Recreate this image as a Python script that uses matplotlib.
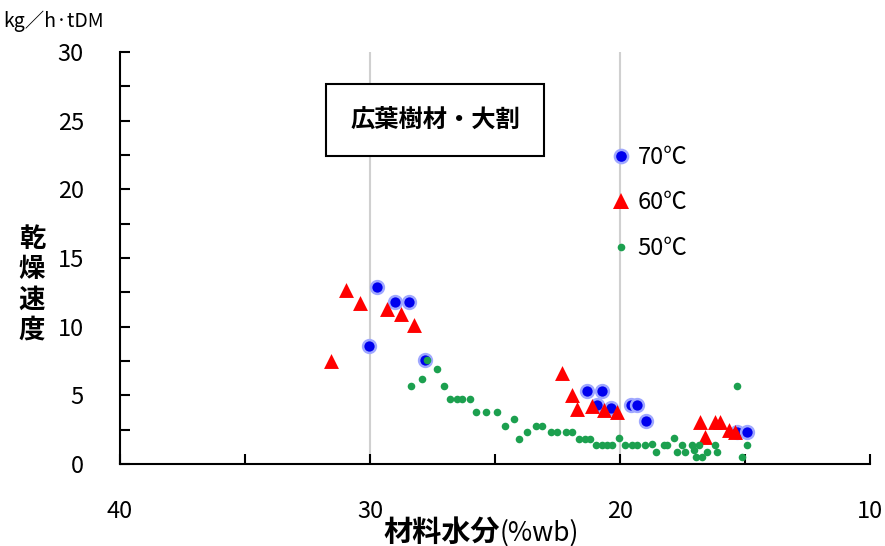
import matplotlib
matplotlib.use("Agg")
import matplotlib.pyplot as plt
from matplotlib.lines import Line2D

plt.rcParams['font.family'] = ['Noto Sans CJK JP', 'DejaVu Sans']

# 70℃ (blue circles)
t70_x = [29.7, 29.0, 28.45, 30.05, 27.8, 21.3, 20.7, 20.9, 20.35, 19.55, 19.3, 18.95, 15.3, 14.9]
t70_y = [12.9, 11.8, 11.8, 8.6, 7.6, 5.3, 5.3, 4.3, 4.1, 4.3, 4.3, 3.1, 2.35, 2.3]

# 60℃ (red triangles)
t60_x = [31.55, 30.95, 30.4, 29.3, 28.75, 28.25, 22.3, 21.9, 21.7, 21.1, 20.65, 20.1,
         16.8, 16.6, 16.2, 16.0, 15.65, 15.4]
t60_y = [7.5, 12.7, 11.75, 11.3, 10.9, 10.1, 6.6, 5.0, 4.0, 4.2, 3.95, 3.8,
         3.05, 2.0, 3.05, 3.05, 2.5, 2.35]

# 50℃ (green dots)
t50_x = [28.35, 27.9, 27.7, 27.3, 27.05, 26.8, 26.5, 26.3, 26.0, 25.75,
         25.35, 24.9, 24.6, 24.25, 24.05, 23.7, 23.35, 23.1, 22.75, 22.5,
         22.15, 21.9, 21.65, 21.4, 21.2, 20.95, 20.7, 20.5, 20.3, 20.05,
         19.8, 19.5, 19.3, 19.0, 18.7, 18.55, 18.25, 18.1, 17.85, 17.7,
         17.5, 17.4, 17.1, 17.05, 16.95, 16.85, 16.7, 16.5, 16.2, 16.1,
         15.3, 15.1, 14.9]
t50_y = [5.7, 6.2, 7.6, 6.9, 5.7, 4.75, 4.75, 4.75, 4.75, 3.8,
         3.8, 3.8, 2.8, 3.3, 1.8, 2.35, 2.8, 2.8, 2.35, 2.35,
         2.35, 2.35, 1.8, 1.8, 1.8, 1.4, 1.4, 1.4, 1.4, 1.9,
         1.4, 1.4, 1.4, 1.4, 1.45, 0.9, 1.4, 1.4, 1.9, 0.9,
         1.4, 0.9, 1.4, 1.0, 0.5, 1.4, 0.5, 0.9, 1.4, 0.9,
         5.7, 0.5, 1.4]

series_labels = ['70℃', '60℃', '50℃']
x_ticks = [40, 30, 20, 10]
y_ticks = [0, 5, 10, 15, 20, 25, 30]

blue, blue_edge = '#0000ee', '#a0a8ff'
red = '#ff0000'
green = '#1ca04f'

fig = plt.figure(figsize=(8.85, 5.46), dpi=100)
ax = fig.add_axes([120 / 885, 82 / 546, 750 / 885, 412 / 546])

for v in [30, 20]:
    ax.axvline(v, color='#d0d0d0', lw=1.5, zorder=0)

ax.scatter(t70_x, t70_y, s=85, c=blue, edgecolors=blue_edge, linewidths=1.8, zorder=3)
ax.scatter(t60_x, t60_y, s=115, c=red, marker='^', linewidths=0, zorder=4)
ax.scatter(t50_x, t50_y, s=30, c=green, linewidths=0, zorder=5)

ax.set_xlim(40, 10)
ax.set_ylim(0, 30)
ax.set_xticks(x_ticks)
ax.set_xticks([35, 25, 15], minor=True)
ax.set_yticks(y_ticks)
ax.set_yticks([2.5, 7.5, 12.5, 17.5, 22.5, 27.5], minor=True)
ax.tick_params(which='both', direction='in', length=7, width=1.5)
ax.tick_params(axis='x', pad=26, labelsize=17)
ax.tick_params(axis='y', pad=26, labelsize=17)
for s in ['top', 'right']:
    ax.spines[s].set_visible(False)
for s in ['left', 'bottom']:
    ax.spines[s].set_linewidth(1.5)

handles = [
    Line2D([], [], ls='none', marker='o', ms=9.5, mfc=blue, mec=blue_edge, mew=1.8),
    Line2D([], [], ls='none', marker='^', ms=11, mfc=red, mec=red, mew=0),
    Line2D([], [], ls='none', marker='o', ms=5.5, mfc=green, mec=green, mew=0),
]
ax.legend(handles, series_labels, loc='upper left', bbox_to_anchor=(0.643, 0.795),
          frameon=False, fontsize=17, handlelength=0.8, handletextpad=0.3,
          labelspacing=0.95, borderaxespad=0)

ax.text(0.42, 0.835, '広葉樹材・大割', transform=ax.transAxes, ha='center', va='center',
        fontsize=17.5, fontweight='bold',
        bbox=dict(boxstyle='square,pad=1.0', fc='white', ec='black', lw=1.5))

fig.text(32 / 885, 1 - 285 / 546, '乾\n燥\n速\n度', ha='center', va='center',
         fontsize=19, fontweight='bold', linespacing=1.15)
fig.text(500 / 885, 1 - 541 / 546, '材料水分', ha='right', va='baseline',
         fontsize=21, fontweight='bold')
fig.text(500 / 885, 1 - 541 / 546, '(%wb)', ha='left', va='baseline', fontsize=19)
fig.text(3 / 885, 1 - 27 / 546, 'kg／h·tDM', ha='left', va='baseline', fontsize=14)

fig.savefig('out.png', dpi=100)
